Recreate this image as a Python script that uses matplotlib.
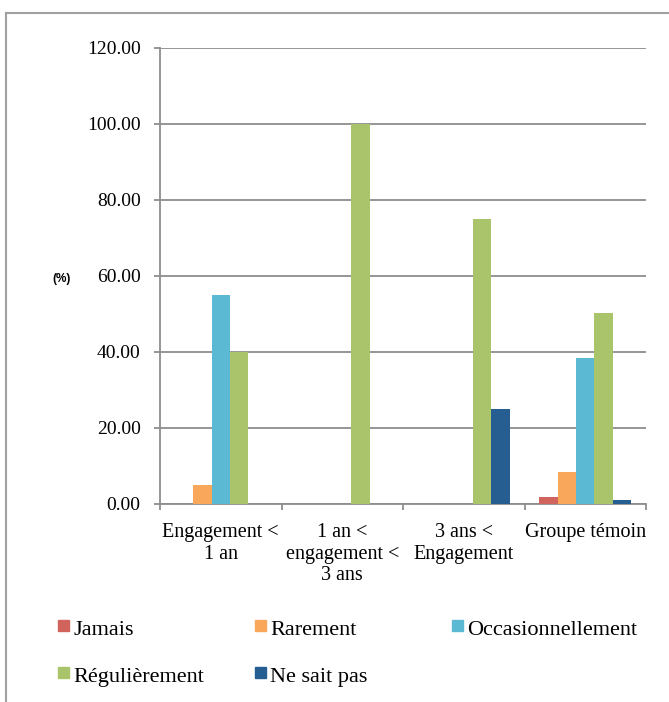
import matplotlib
matplotlib.use("Agg")
import matplotlib.pyplot as plt
import numpy as np
from matplotlib.patches import Rectangle
from matplotlib.lines import Line2D

# engagement groups and answer shares (%)
categories = ["Engagement <\n1 an", "1 an <\nengagement <\n3 ans", "3 ans <\nEngagement", "Groupe témoin"]
series_names = ["Jamais", "Rarement", "Occasionnellement", "Régulièrement", "Ne sait pas"]
jamais = [0, 0, 0, 1.9]
rarement = [5, 0, 0, 8.5]
occasionnellement = [55, 0, 0, 38.3]
regulierement = [40, 100, 75, 50.2]
ne_sait_pas = [0, 0, 25, 1.0]
y_ticks = [0, 20, 40, 60, 80, 100, 120]

series_values = [jamais, rarement, occasionnellement, regulierement, ne_sait_pas]
colors = ["#D1645C", "#F9A75A", "#5BB9D4", "#AAC46C", "#265E91"]

plt.rcParams["font.family"] = ["Liberation Serif", "DejaVu Serif"]
W, H = 669, 702
fig = plt.figure(figsize=(W / 100, H / 100), dpi=100)

def fx(px):
    return px / W

def fy(px):
    return 1 - px / H

# outer frame (top and left edges only)
frame_col = "#A0A0A0"
fig.add_artist(Line2D([fx(6), 1], [fy(13), fy(13)], color=frame_col, lw=1.5, transform=fig.transFigure))
fig.add_artist(Line2D([fx(6), fx(6)], [fy(13), 0], color=frame_col, lw=1.5, transform=fig.transFigure))

ax = fig.add_axes([fx(160), fy(504), fx(646) - fx(160), fy(48) - fy(504)])

n = len(series_names)
x = np.arange(len(categories))
bw = 0.76 / n
for i, (name, vals) in enumerate(zip(series_names, series_values)):
    ax.bar(x + (i - (n - 1) / 2) * bw, vals, width=bw, color=colors[i], label=name, zorder=3)

grid_col = "#8E8E8E"
ax.set_xlim(-0.5, len(categories) - 0.5)
ax.set_ylim(0, 120)
ax.set_yticks(y_ticks)
ax.set_yticklabels([f"{v:.2f}" for v in y_ticks], fontsize=14)
ax.yaxis.grid(True, color=grid_col, lw=1.3, zorder=0)
ax.tick_params(axis="y", length=4, width=1.3, color=grid_col, pad=10)

# category separators on the x axis, labels centered between them
ax.set_xticks(np.arange(len(categories) + 1) - 0.5)
ax.set_xticklabels([])
ax.tick_params(axis="x", which="major", length=4, width=1.3, color=grid_col)
ax.set_xticks(x, minor=True)
ax.set_xticklabels(categories, minor=True, fontsize=14.5, linespacing=1.15)
ax.tick_params(axis="x", which="minor", length=0, pad=14)

for side in ["top", "right"]:
    ax.spines[side].set_visible(False)
for side in ["left", "bottom"]:
    ax.spines[side].set_color(grid_col)
    ax.spines[side].set_linewidth(1.3)

fig.text(fx(62), fy(279), "(%)", fontsize=8.5, fontweight="bold",
         family=["Liberation Sans", "DejaVu Sans"], ha="center", va="center")

# legend laid out in two rows of three columns
col_x = [58, 255, 452]
row_y = [635, 682]
for i, name in enumerate(series_names):
    cx = col_x[i % 3]
    by = row_y[i // 3]
    fig.add_artist(Rectangle((fx(cx), fy(by - 4)), fx(11), 11 / H, color=colors[i],
                             transform=fig.transFigure))
    fig.text(fx(cx + 15), fy(by), name, fontsize=16, ha="left", va="baseline")

fig.savefig("out.png", dpi=100)
